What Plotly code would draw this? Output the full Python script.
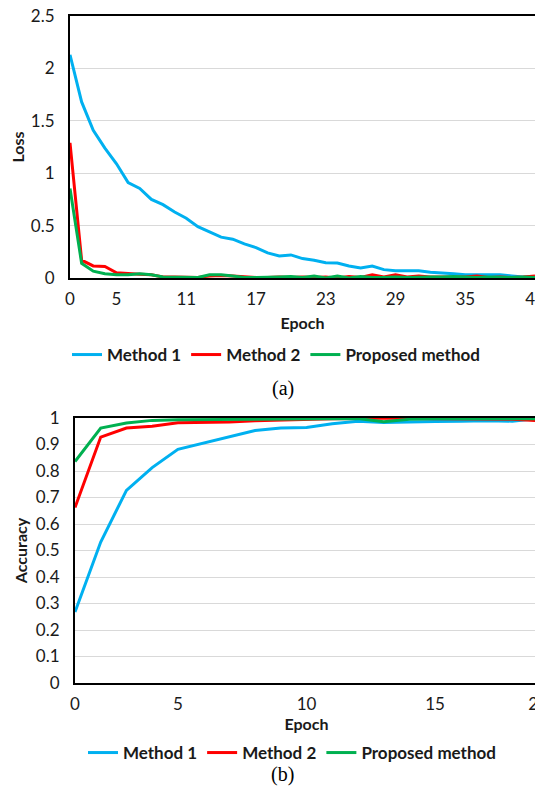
import plotly.graph_objects as go

# The page body adds an 8px margin; the figure is sized and positioned to compensate
OFF = 8
W, H = 543 - OFF, 801 - 2 * OFF

# ---------------- data ----------------
loss_epochs = [0, 1, 2, 3, 4, 5, 6, 7, 8, 9, 10, 11, 12, 13, 14, 15, 16, 17, 18, 19, 20,
               21, 22, 23, 24, 25, 26, 27, 28, 29, 30, 31, 32, 33, 34, 35, 36, 37, 38, 39, 40]
loss_method1 = [2.13, 1.68, 1.41, 1.24, 1.09, 0.91, 0.855, 0.75, 0.70, 0.63, 0.57, 0.49, 0.44,
                0.39, 0.37, 0.325, 0.29, 0.24, 0.21, 0.22, 0.185, 0.17, 0.146, 0.143, 0.115,
                0.095, 0.115, 0.08, 0.07, 0.07, 0.07, 0.055, 0.05, 0.04, 0.03, 0.03, 0.03,
                0.03, 0.02, 0.01, 0.01]
loss_method2 = [1.29, 0.17, 0.115, 0.11, 0.05, 0.04, 0.035, 0.03, 0.01, 0.01, 0.01, 0.005,
                0.02, 0.025, 0.02, 0.01, 0.005, 0.005, 0.01, 0.005, 0.01, 0.005, 0.01, 0.0,
                0.015, 0.005, 0.03, 0.01, 0.03, 0.01, 0.02, 0.01, 0.01, 0.005, 0.01, 0.02,
                0.005, 0.01, 0.005, 0.01, 0.02]
loss_proposed = [0.855, 0.14, 0.065, 0.04, 0.03, 0.03, 0.04, 0.03, 0.01, 0.01, 0.005, 0.005,
                 0.03, 0.03, 0.02, 0.005, 0.005, 0.005, 0.01, 0.015, 0.005, 0.02, 0.0, 0.02,
                 0.0, 0.015, 0.005, 0.005, 0.01, 0.005, 0.01, 0.01, 0.01, 0.015, 0.01, 0.005,
                 0.01, 0.005, 0.005, 0.01, 0.005]
loss_tick_pos = [0, 4, 10, 16, 22, 28, 34, 40]
loss_tick_text = ["0", "5", "11", "17", "23", "29", "35", "40"]

acc_epochs = [0, 1, 2, 3, 4, 5, 6, 7, 8, 9, 10, 11, 12, 13, 14, 15, 16, 17, 18]
acc_method1 = [0.268, 0.532, 0.727, 0.813, 0.882, 0.906, 0.931, 0.953, 0.962, 0.964, 0.978,
               0.988, 0.983, 0.986, 0.987, 0.988, 0.99, 0.988, 0.998]
acc_method2 = [0.662, 0.928, 0.962, 0.969, 0.982, 0.983, 0.985, 0.99, 0.993, 0.995, 0.997,
               0.998, 1.0, 0.998, 0.997, 0.997, 0.996, 0.995, 0.99]
acc_proposed = [0.836, 0.962, 0.981, 0.991, 0.993, 0.994, 0.995, 0.995, 0.997, 0.997, 0.998,
                0.998, 0.986, 0.995, 0.997, 0.997, 0.997, 0.997, 0.997]
acc_tick_pos = [0, 4, 9, 14, 18]
acc_tick_text = ["0", "5", "10", "15", "20"]

names = ["Method 1", "Method 2", "Proposed method"]
colors = ["#00B0F0", "#FF0000", "#00B050"]

SANS = "Lato"
TXT = "#1a1a1a"

fig = go.Figure()

for name, ys, col in zip(names, [loss_method1, loss_method2, loss_proposed], colors):
    fig.add_trace(go.Scatter(x=loss_epochs, y=ys, mode="lines", name=name,
                             line=dict(color=col, width=3), xaxis="x", yaxis="y",
                             legend="legend"))
for name, ys, col in zip(names, [acc_method1, acc_method2, acc_proposed], colors):
    fig.add_trace(go.Scatter(x=acc_epochs, y=ys, mode="lines", name=name,
                             line=dict(color=col, width=3), xaxis="x2", yaxis="y2",
                             legend="legend2"))

# screen pixel -> paper fraction
def px_x(v):
    return (v - OFF) / W

def px_y(v):
    return 1 - (v - OFF) / H

tickfont = dict(family=SANS, size=17, color=TXT)
titlefont = dict(family=SANS, size=16, color=TXT, weight="bold")

common_x = dict(showgrid=False, zeroline=False, showline=True, linecolor="#000000",
                linewidth=2, mirror=True, ticks="", tickfont=tickfont,
                ticklabelstandoff=5, tickmode="array", automargin=False,
                ticklabeloverflow="allow")
common_y = dict(showgrid=True, gridcolor="#d9d9d9", gridwidth=1, zeroline=False,
                showline=True, linecolor="#000000", linewidth=2, mirror=True,
                ticks="", tickfont=tickfont, ticklabelstandoff=10, automargin=False,
                ticklabeloverflow="allow")

fig.update_layout(
    width=W, height=H,
    margin=dict(l=0, r=0, t=0, b=0, autoexpand=False),
    paper_bgcolor="white", plot_bgcolor="white",
    showlegend=True,
    xaxis=dict(domain=[px_x(70), px_x(535)], range=[0, 40], anchor="y",
               tickvals=loss_tick_pos, ticktext=loss_tick_text,
               title=dict(text="Epoch", font=titlefont, standoff=9), **common_x),
    yaxis=dict(domain=[px_y(278), px_y(16)], range=[0, 2.5], dtick=0.5, anchor="x",
               title=dict(text="Loss", font=titlefont, standoff=10), **common_y),
    xaxis2=dict(domain=[px_x(75), px_x(538)], range=[0, 18], anchor="y2",
                tickvals=acc_tick_pos, ticktext=acc_tick_text,
                title=dict(text="Epoch", font=titlefont, standoff=4), **common_x),
    yaxis2=dict(domain=[px_y(683), px_y(418)], range=[0, 1], dtick=0.1, anchor="x2",
                title=dict(text="Accuracy", font=titlefont, standoff=4), **common_y),
    legend=dict(orientation="h", x=px_x(276), xanchor="center", y=px_y(355),
                yanchor="middle", font=dict(family=SANS, size=17, color=TXT, weight="bold"),
                itemwidth=30, bgcolor="rgba(0,0,0,0)", tracegroupgap=0),
    legend2=dict(orientation="h", x=px_x(292), xanchor="center", y=px_y(753),
                 yanchor="middle", font=dict(family=SANS, size=17, color=TXT, weight="bold"),
                 itemwidth=30, bgcolor="rgba(0,0,0,0)", tracegroupgap=0),
    annotations=[
        dict(text="(a)", x=px_x(283), y=px_y(388), xref="paper", yref="paper",
             showarrow=False, font=dict(family="Liberation Serif", size=20, color="#000")),
        dict(text="(b)", x=px_x(283), y=px_y(788), xref="paper", yref="paper",
             showarrow=False, font=dict(family="Liberation Serif", size=20, color="#000")),
    ],
)

fig.write_html("out.html")
